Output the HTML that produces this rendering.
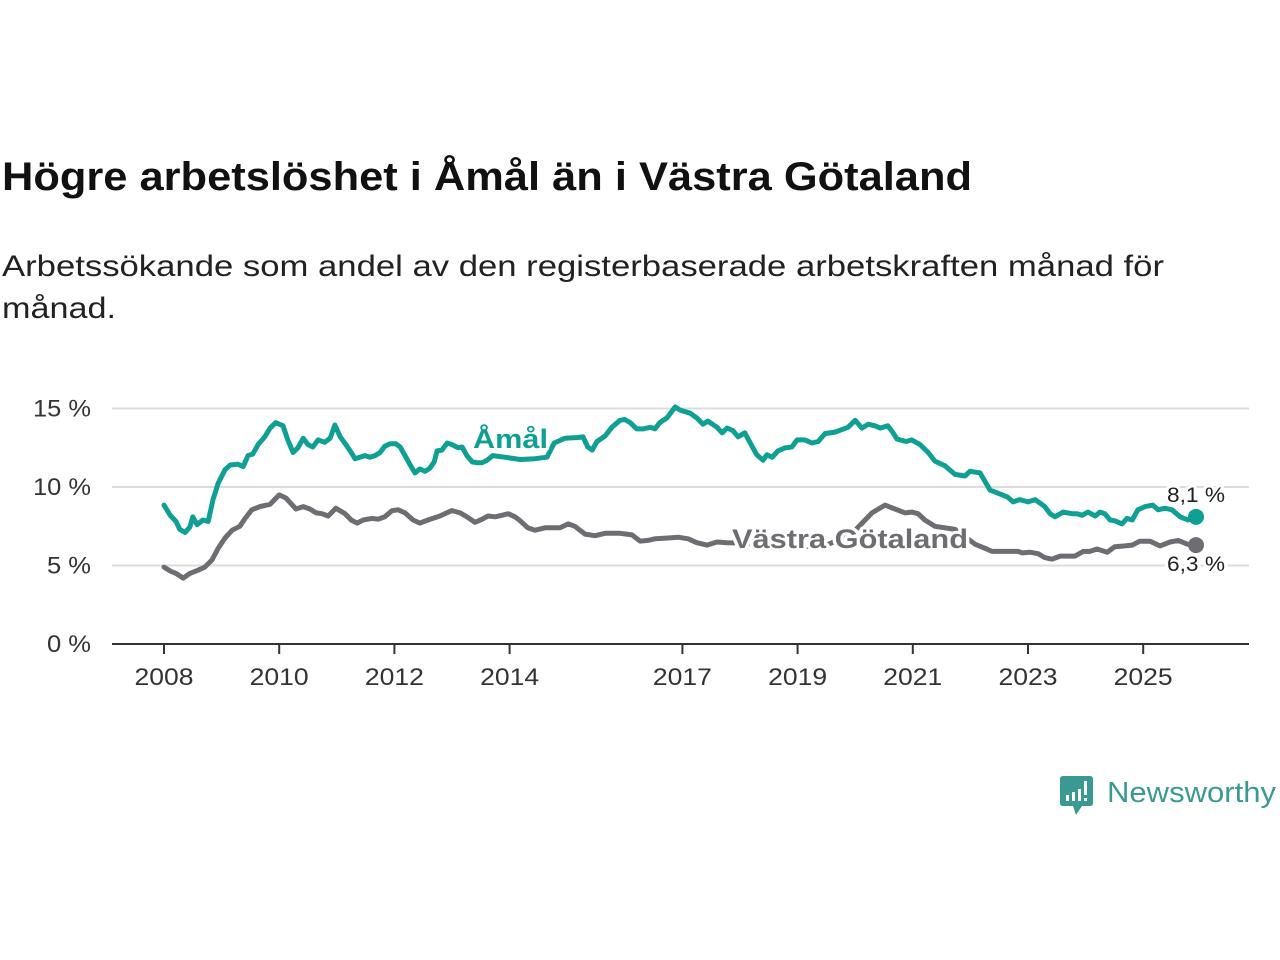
<!DOCTYPE html>
<html><head><meta charset="utf-8"><style>
html,body{margin:0;padding:0;background:#fff;}
svg{display:block;font-family:"Liberation Sans",sans-serif;}
</style></head><body>
<svg width="1280" height="960" viewBox="0 0 1280 960">
<text x="2" y="190" font-size="40" font-weight="bold" fill="#111" textLength="970" lengthAdjust="spacingAndGlyphs">Högre arbetslöshet i Åmål än i Västra Götaland</text>
<text x="2" y="276" font-size="30" fill="#222" textLength="1162" lengthAdjust="spacingAndGlyphs">Arbetssökande som andel av den registerbaserade arbetskraften månad för</text>
<text x="2" y="318" font-size="30" fill="#222" textLength="114" lengthAdjust="spacingAndGlyphs">månad.</text>
<g id="grid"></g>
<g id="xaxis"></g>
<g id="yaxis"></g>
<g id="series"></g>
<g>
<path d="M1063 776 H1090 Q1093 776 1093 779 V803 Q1093 806 1090 806 H1082 L1076 815 L1073 806 H1063 Q1060 806 1060 803 V779 Q1060 776 1063 776 Z" fill="#3a9a92"/>
<rect x="1066" y="795" width="3" height="6" fill="#fff"/><rect x="1072" y="792" width="3" height="9" fill="#fff"/><rect x="1078" y="789" width="3" height="12" fill="#fff"/><rect x="1084" y="781" width="3" height="14" fill="#fff"/><rect x="1084" y="798" width="3" height="3" fill="#fff"/>
<text x="1107" y="802" font-size="29" fill="#3a9a92" textLength="169" lengthAdjust="spacingAndGlyphs">Newsworthy</text>
</g>
</svg>
<script>
const yTicks=[0,5,10,15];
const yTickLabels=["0 %","5 %","10 %","15 %"];
const xTicks=[2008,2010,2012,2014,2017,2019,2021,2023,2025];
const amalMonths=[0,1.3,2.5,3.3,4.4,5.4,6.0,6.9,8.1,9.2,10.2,11.3,12.7,13.8,15.4,16.5,17.5,18.5,19.6,21.0,22.1,23.3,24.8,25.8,26.9,27.9,29.0,30.0,31.0,32.1,33.5,34.6,35.6,36.7,37.9,39.0,39.8,40.8,41.9,42.9,44.0,45.0,46.0,47.1,48.3,49.2,50.2,51.3,52.3,53.3,54.4,55.4,56.3,56.9,57.9,59.0,60.0,61.3,62.1,63.1,64.2,65.2,66.3,67.3,68.5,71.0,74.2,77.3,79.8,81.3,83.5,86.3,87.3,88.3,89.2,90.2,91.9,93.3,95.0,96.0,97.1,98.5,99.8,101.3,102.3,103.3,104.8,106.5,107.5,109.6,111.0,112.3,113.3,115.2,116.3,117.3,118.5,119.6,121.0,122.5,123.5,124.8,125.6,126.7,127.9,129.4,130.8,131.9,133.5,135.0,136.3,137.7,139.8,142.5,144.0,145.4,146.7,148.1,149.2,150.8,151.9,152.7,154.6,155.8,157.5,159.2,160.6,162.7,164.8,166.9,167.9,170.0,172.1,174.2,175.8,176.9,178.3,180.0,181.5,183.5,184.6,185.6,187.3,189.2,190.2,191.3,192.5,194.0,195.0,196.0,197.1,198.1,199.6,200.6,201.7,202.9,204.4,206.0,207.1,208.5,210.0,211.7,213.3,215.0];
const amalValues=[8.85,8.2,7.8,7.3,7.1,7.45,8.1,7.6,7.9,7.8,9.2,10.25,11.1,11.4,11.45,11.3,12.0,12.1,12.7,13.2,13.75,14.1,13.9,13.0,12.2,12.5,13.1,12.7,12.55,13.0,12.85,13.1,13.95,13.2,12.7,12.2,11.8,11.9,12.0,11.9,12.0,12.2,12.6,12.75,12.75,12.55,12.0,11.4,10.9,11.15,11.0,11.2,11.6,12.3,12.35,12.8,12.7,12.5,12.55,12.0,11.6,11.55,11.55,11.7,12.0,11.9,11.75,11.8,11.9,12.8,13.1,13.15,13.2,12.55,12.35,12.9,13.25,13.8,14.25,14.3,14.1,13.7,13.7,13.8,13.7,14.1,14.4,15.1,14.9,14.7,14.4,14.0,14.2,13.8,13.45,13.75,13.6,13.2,13.45,12.6,12.05,11.7,12.05,11.9,12.3,12.5,12.55,13.0,13.0,12.8,12.9,13.4,13.5,13.8,14.25,13.75,14.0,13.9,13.75,13.9,13.45,13.05,12.9,13.0,12.7,12.2,11.65,11.35,10.8,10.7,11.0,10.9,9.8,9.55,9.35,9.05,9.2,9.05,9.2,8.75,8.3,8.1,8.4,8.3,8.3,8.2,8.4,8.15,8.4,8.3,7.9,7.85,7.65,8.0,7.9,8.55,8.75,8.85,8.55,8.65,8.55,8.1,7.9,8.1];
const vgMonths=[0,1.3,2.5,4.0,5.4,7.1,8.5,10.0,11.3,12.7,14.2,15.8,16.9,18.3,20.0,22.1,24.0,25.4,26.3,27.5,29.0,30.4,31.7,32.9,34.2,35.8,37.7,39.0,40.2,41.5,43.3,44.6,46.0,47.5,48.8,50.2,51.9,53.3,55.0,56.0,57.5,58.5,60.0,61.7,63.1,64.8,66.3,67.5,69.0,70.4,71.7,73.1,74.2,75.8,77.3,79.4,82.5,84.2,85.6,87.7,89.8,91.9,95.0,97.5,99.2,100.8,102.3,105.0,107.1,109.2,111.0,113.1,115.2,117.3,124.2,130.4,136.7,142.9,147.5,150.2,152.3,154.4,155.8,157.1,158.5,160.6,164.8,169.0,171.0,172.5,176.3,177.9,178.8,180.4,182.1,183.5,185.0,186.7,189.8,191.5,192.9,194.4,196.5,198.1,200.2,201.7,203.3,205.4,207.5,209.6,211.3,213.3,215.0];
const vgValues=[4.9,4.65,4.5,4.2,4.5,4.7,4.9,5.35,6.1,6.75,7.25,7.5,8.0,8.55,8.75,8.9,9.5,9.3,9.0,8.6,8.75,8.6,8.35,8.3,8.15,8.65,8.3,7.9,7.7,7.9,8.0,7.95,8.1,8.5,8.55,8.35,7.9,7.7,7.9,8.0,8.15,8.3,8.5,8.35,8.1,7.75,7.95,8.15,8.1,8.2,8.3,8.1,7.85,7.4,7.25,7.4,7.4,7.65,7.5,7.0,6.9,7.05,7.05,6.95,6.55,6.6,6.7,6.75,6.8,6.7,6.45,6.3,6.5,6.45,6.4,6.3,6.15,6.9,8.35,8.85,8.6,8.35,8.4,8.3,7.9,7.5,7.3,6.35,6.1,5.9,5.9,5.9,5.8,5.85,5.75,5.5,5.4,5.6,5.6,5.9,5.9,6.05,5.85,6.2,6.25,6.3,6.55,6.55,6.25,6.5,6.6,6.35,6.3];
const NS="http://www.w3.org/2000/svg";
const X0=164,PX_PER_YEAR=57.6,Y0=644,PX_PER_PCT=15.7;
function xYear(y){return X0+(y-2008)*PX_PER_YEAR;}
function xMonth(m){return X0+m*PX_PER_YEAR/12;}
function yVal(v){return Y0-v*PX_PER_PCT;}
function mk(tag,attrs,parent){const e=document.createElementNS(NS,tag);for(const k in attrs)e.setAttribute(k,attrs[k]);parent.appendChild(e);return e;}
const grid=document.getElementById('grid'),xa=document.getElementById('xaxis'),ya=document.getElementById('yaxis'),ser=document.getElementById('series');
yTicks.forEach((t,i)=>{
  if(t>0){const l=mk('line',{x1:112,x2:1249,y1:yVal(t),y2:yVal(t),stroke:'#dcdcdc','stroke-width':2},grid);
  
  }
  const lbl=yTickLabels[i];
  const tx=mk('text',{x:91,y:yVal(t)+8,'font-size':24,fill:'#333','text-anchor':'end',textLength:(lbl.length===4?58:44),lengthAdjust:'spacingAndGlyphs'},ya);
  tx.textContent=lbl;
  
  
});
const base=mk('line',{x1:112,x2:1249,y1:Y0,y2:Y0,stroke:'#333','stroke-width':2},xa);


xTicks.forEach(t=>{
  const x=xYear(t);
  const tk=mk('line',{x1:x,x2:x,y1:Y0,y2:Y0+10,stroke:'#333','stroke-width':2},xa);
  
  
  const tx=mk('text',{x:x,y:685,'font-size':24,fill:'#333','text-anchor':'middle',textLength:59,lengthAdjust:'spacingAndGlyphs'},xa);
  tx.textContent=String(t);
  
  
});
function line(ms,vs,color,name){
  const d=ms.map((m,i)=>(i?'L':'M')+xMonth(m).toFixed(1)+' '+yVal(vs[i]).toFixed(1)).join(' ');
  const p=mk('path',{d:d,fill:'none',stroke:color,'stroke-width':5,'stroke-linejoin':'round','stroke-linecap':'round'},ser);
  
  
  const n=ms.length-1;
  const c=mk('circle',{cx:xMonth(ms[n]),cy:yVal(vs[n]),r:8,fill:color},ser);
  
  
  return [xMonth(ms[n]),yVal(vs[n]),vs[n]];
}
const endV=line(vgMonths,vgValues,'#6e6d72','line-vastra-gotaland');
const endA=line(amalMonths,amalValues,'#0fa093','line-amal');
function label(txt,x,y,color,size,weight,name,len){
  const t=mk('text',{x:x,y:y,'font-size':size,'font-weight':weight,fill:color,stroke:'#fff','stroke-width':6,'paint-order':'stroke','stroke-linejoin':'round'},ser);
  if(len){t.setAttribute('textLength',len);t.setAttribute('lengthAdjust','spacingAndGlyphs');}
  t.textContent=txt;
  
  
}
label('Åmål',473,448,'#0fa093',27,'bold','series-label-amal',75);
label('Västra Götaland',732,548,'#6e6d72',27,'bold','series-label-vastra-gotaland',236);
label(endA[2].toFixed(1).replace('.',',')+' %',1167,502,'#222',21,'normal','end-value-amal',58);
label(endV[2].toFixed(1).replace('.',',')+' %',1167,571,'#222',21,'normal','end-value-vastra-gotaland',58);
</script>
</body></html>
